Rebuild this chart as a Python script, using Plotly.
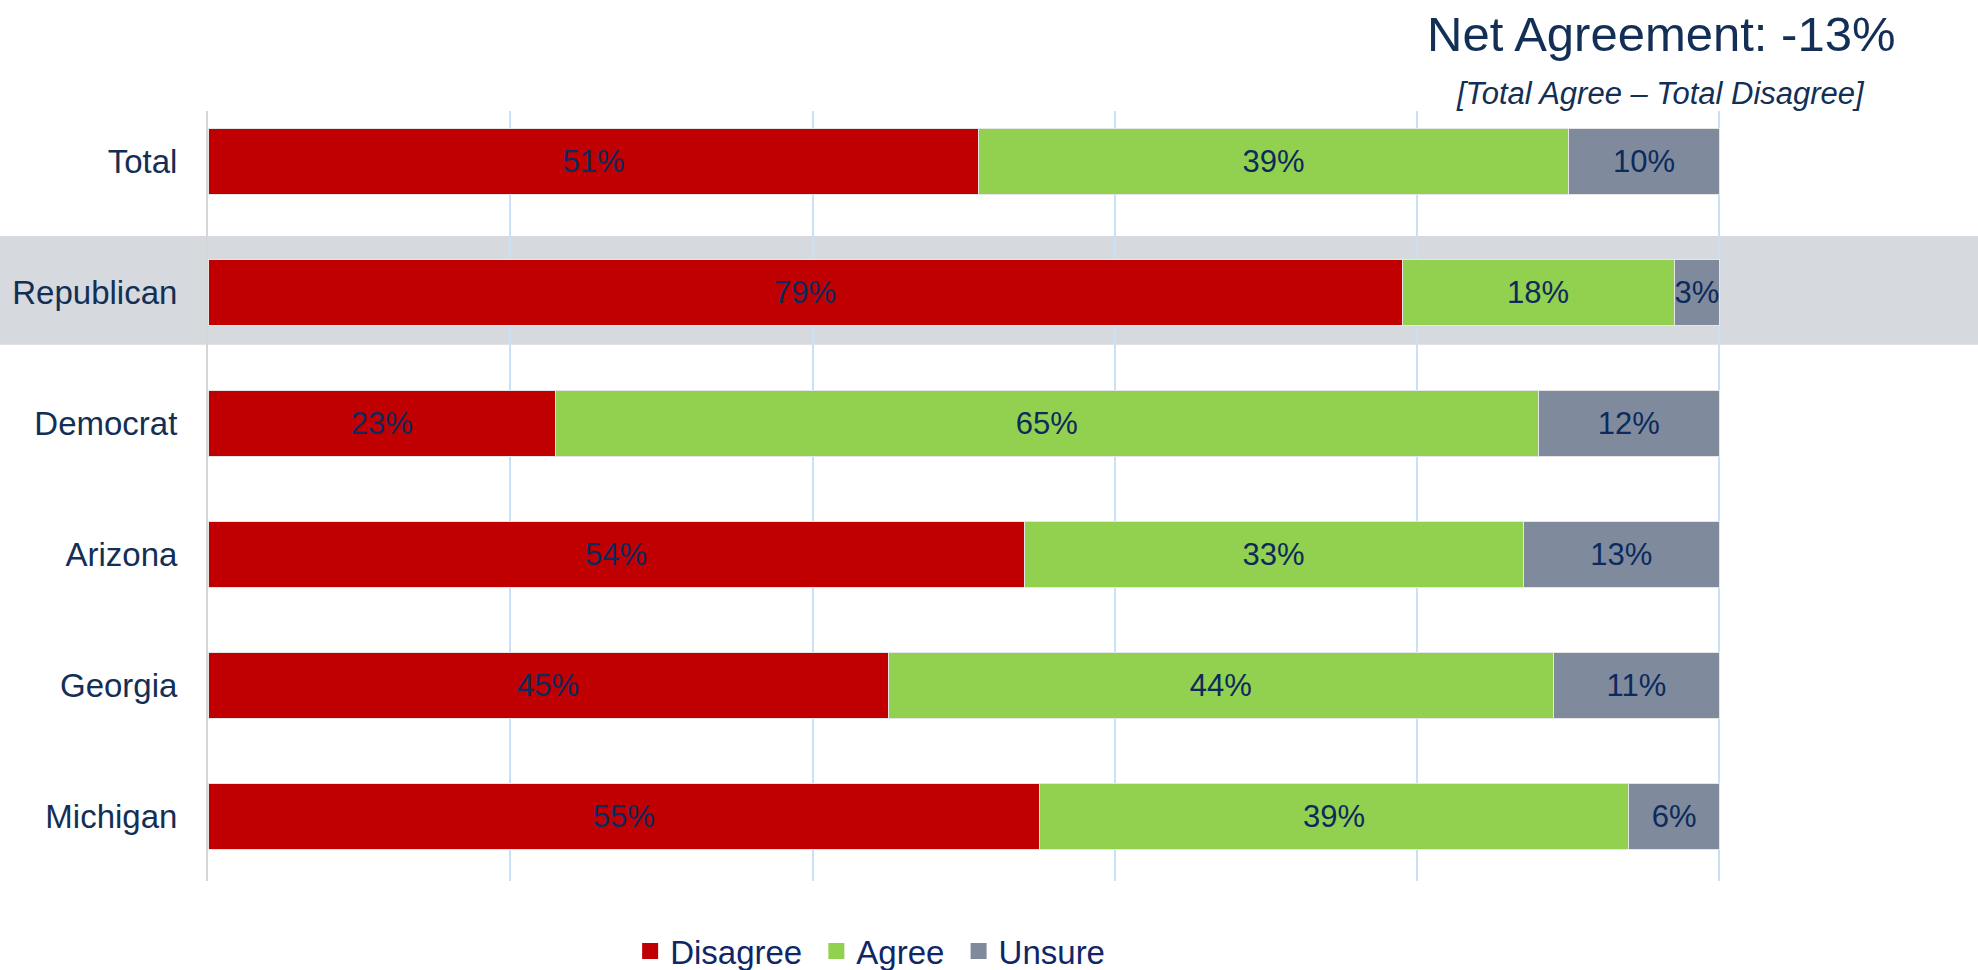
import plotly.graph_objects as go

categories = ["Total", "Republican", "Democrat", "Arizona", "Georgia", "Michigan"]
disagree = [51, 79, 23, 54, 45, 55]
agree = [39, 18, 65, 33, 44, 39]
unsure = [10, 3, 12, 13, 11, 6]

series = [("Disagree", disagree, "#c00000"), ("Agree", agree, "#92d050"), ("Unsure", unsure, "#7f8b9c")]
navy = "#132f55"

fig = go.Figure()
for name, vals, col in series:
    fig.add_trace(go.Bar(
        y=categories, x=vals, name=name, orientation="h", showlegend=False,
        marker=dict(color=col, line=dict(color="#e6e6e6", width=1)),
        width=0.5,
        text=[f"{v}%" for v in vals], textposition="inside", insidetextanchor="middle",
        textangle=0,
        textfont=dict(family="Liberation Sans, Arial", size=31, color="#0d2a5c"),
        hoverinfo="skip",
    ))
for name, vals, col in series:
    fig.add_trace(go.Scatter(
        x=[None], y=[None], mode="markers", name=name + " ",
        marker=dict(symbol="square", size=16, color=col), showlegend=True, hoverinfo="skip",
    ))

W, H = 1978, 970
L, R, T, B = 208, 1721, 111, 881
pw = R - L

fig.add_shape(type="rect", xref="paper", yref="y", x0=-L / pw, x1=(W - L) / pw,
              y0=0.57, y1=1.40, fillcolor="#d6d9de", line=dict(width=0), layer="below")

fig.update_layout(
    width=W, height=H, barmode="stack",
    margin=dict(l=L, r=W - R, t=T, b=H - B, autoexpand=False),
    paper_bgcolor="white", plot_bgcolor="rgba(0,0,0,0)",
    font=dict(family="Liberation Sans, Arial", color=navy),
    uniformtext=dict(minsize=31, mode="show"),
    xaxis=dict(range=[0, 100.1], tickvals=[0, 20, 40, 60, 80, 100], showticklabels=False,
               showgrid=True, gridcolor="#c9e1f7", gridwidth=2, zeroline=False, fixedrange=True),
    yaxis=dict(categoryorder="array", categoryarray=categories, range=[5.492, -0.385],
               showgrid=False, showline=True, linecolor="#d6d6d6", linewidth=2,
               tickfont=dict(size=33, color=navy), ticklabelstandoff=22, fixedrange=True),
    legend=dict(orientation="h", x=0.279, xanchor="left", y=-0.091, yanchor="middle",
                font=dict(size=33, color="#0f2766"), traceorder="normal", itemwidth=30,
                bgcolor="rgba(0,0,0,0)"),
    showlegend=True,
)

fig.add_annotation(text="Net Agreement: -13%", xref="paper", yref="paper",
                   x=(1661 - L) / pw, y=1 + (T - 34) / (B - T), xanchor="center", yanchor="middle",
                   showarrow=False, font=dict(size=49, color=navy))
fig.add_annotation(text="<i>[Total Agree – Total Disagree]</i>", xref="paper", yref="paper",
                   x=(1660 - L) / pw, y=1 + (T - 93) / (B - T), xanchor="center", yanchor="middle",
                   showarrow=False, font=dict(size=31, color=navy))

fig.write_html("out.html", post_script="document.body.style.margin='0';",
               config={"displayModeBar": False})
